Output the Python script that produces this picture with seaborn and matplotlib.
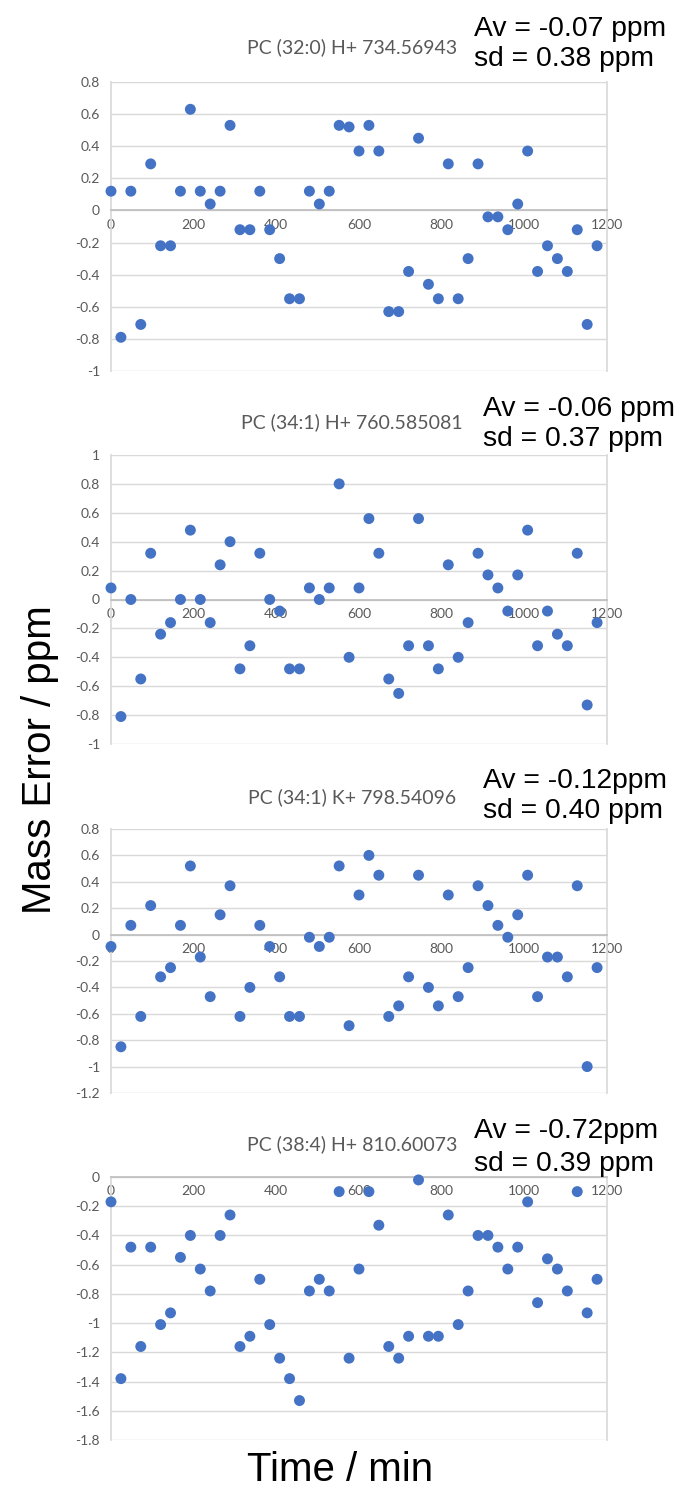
import matplotlib
matplotlib.use("Agg")
import matplotlib.pyplot as plt
import seaborn as sns

# sampling times (min), same for all four lipids
time_min = [0, 24, 48, 72, 96, 120, 144, 168, 192, 216,
            240, 264, 288, 312, 336, 360, 384, 408, 432, 456,
            480, 504, 528, 552, 576, 600, 624, 648, 672, 696,
            720, 744, 768, 792, 816, 840, 864, 888, 912, 936,
            960, 984, 1008, 1032, 1056, 1080, 1104, 1128, 1152, 1176]

# mass error (ppm) per lipid
pc_32_0_h = [0.12, -0.79, 0.12, -0.71, 0.29, -0.22, -0.22, 0.12, 0.63, 0.12,
             0.04, 0.12, 0.53, -0.12, -0.12, 0.12, -0.12, -0.30, -0.55, -0.55,
             0.12, 0.04, 0.12, 0.53, 0.52, 0.37, 0.53, 0.37, -0.63, -0.63,
             -0.38, 0.45, -0.46, -0.55, 0.29, -0.55, -0.30, 0.29, -0.04, -0.04,
             -0.12, 0.04, 0.37, -0.38, -0.22, -0.30, -0.38, -0.12, -0.71, -0.22]

pc_34_1_h = [0.08, -0.81, 0.00, -0.55, 0.32, -0.24, -0.16, 0.00, 0.48, 0.00,
             -0.16, 0.24, 0.40, -0.48, -0.32, 0.32, 0.00, -0.08, -0.48, -0.48,
             0.08, 0.00, 0.08, 0.80, -0.40, 0.08, 0.56, 0.32, -0.55, -0.65,
             -0.32, 0.56, -0.32, -0.48, 0.24, -0.40, -0.16, 0.32, 0.17, 0.08,
             -0.08, 0.17, 0.48, -0.32, -0.08, -0.24, -0.32, 0.32, -0.73, -0.16]

pc_34_1_k = [-0.09, -0.85, 0.07, -0.62, 0.22, -0.32, -0.25, 0.07, 0.52, -0.17,
             -0.47, 0.15, 0.37, -0.62, -0.40, 0.07, -0.09, -0.32, -0.62, -0.62,
             -0.02, -0.09, -0.02, 0.52, -0.69, 0.30, 0.60, 0.45, -0.62, -0.54,
             -0.32, 0.45, -0.40, -0.54, 0.30, -0.47, -0.25, 0.37, 0.22, 0.07,
             -0.02, 0.15, 0.45, -0.47, -0.17, -0.17, -0.32, 0.37, -1.00, -0.25]

pc_38_4_h = [-0.17, -1.38, -0.48, -1.16, -0.48, -1.01, -0.93, -0.55, -0.40, -0.63,
             -0.78, -0.40, -0.26, -1.16, -1.09, -0.70, -1.01, -1.24, -1.38, -1.53,
             -0.78, -0.70, -0.78, -0.10, -1.24, -0.63, -0.10, -0.33, -1.16, -1.24,
             -1.09, -0.02, -1.09, -1.09, -0.26, -1.01, -0.78, -0.40, -0.40, -0.48,
             -0.63, -0.48, -0.17, -0.86, -0.56, -0.63, -0.78, -0.10, -0.93, -0.70]

titles = ["PC (32:0) H+ 734.56943", "PC (34:1) H+ 760.585081",
          "PC (34:1) K+ 798.54096", "PC (38:4) H+ 810.60073"]
av_text = ["Av = -0.07 ppm", "Av = -0.06 ppm", "Av = -0.12ppm", "Av = -0.72ppm"]
sd_text = ["sd = 0.38 ppm", "sd = 0.37 ppm", "sd = 0.40 ppm", "sd = 0.39 ppm"]
y_limits = [(-1, 0.8), (-1, 1), (-1.2, 0.8), (-1.8, 0)]
series = [pc_32_0_h, pc_34_1_h, pc_34_1_k, pc_38_4_h]

sns.set_theme(style="white")
plt.rcParams["font.family"] = ["Lato", "DejaVu Sans"]

W, H = 682, 1498
fig = plt.figure(figsize=(W / 100, H / 100), dpi=100)

# plot-area boxes in pixels: (top, bottom)
boxes = [(82, 371), (455, 744), (829, 1093), (1177, 1440)]
title_y = [47, 422, 797, 1144]
av_pos = [(474, 29), (483, 409), (483, 781), (474, 1131)]
sd_pos = [(474, 59), (483, 439), (483, 811), (474, 1164)]
left_px, right_px = 111, 607

grey = "#595959"
for i, ys in enumerate(series):
    top, bot = boxes[i]
    ax = fig.add_axes([left_px / W, 1 - bot / H, (right_px - left_px) / W, (bot - top) / H])
    sns.scatterplot(x=time_min, y=ys, ax=ax, color="#4472C4", s=62,
                    edgecolor="none", clip_on=False, zorder=3)
    ax.set_xlim(0, 1200)
    lo, hi = y_limits[i]
    ax.set_ylim(lo, hi)
    ax.set_xticks(range(0, 1201, 200))
    n = int(round((hi - lo) / 0.2))
    yt = [round(lo + k * 0.2, 1) for k in range(n + 1)]
    ax.set_yticks(yt)
    ax.set_yticklabels([f"{v:g}" for v in yt])
    ax.yaxis.grid(True, color="#d9d9d9", lw=1)
    ax.set_axisbelow(True)
    for s in ["left", "right"]:
        ax.spines[s].set_visible(True)
        ax.spines[s].set_color("#d9d9d9")
    ax.spines["top"].set_visible(False)
    ax.spines["bottom"].set_position(("data", 0))
    ax.spines["bottom"].set_color("#bfbfbf")
    ax.tick_params(axis="both", length=0, labelsize=10, labelcolor=grey)
    ax.tick_params(axis="x", pad=6)
    ax.tick_params(axis="y", pad=8)
    ax.set_xlabel("")
    ax.set_ylabel("")

    fig.text(352 / W, 1 - title_y[i] / H, titles[i], ha="center", va="center",
             fontsize=14, color=grey)
    fig.text(av_pos[i][0] / W, 1 - av_pos[i][1] / H, av_text[i], ha="left", va="center",
             fontsize=20.3, color="black", family="Liberation Sans")
    fig.text(sd_pos[i][0] / W, 1 - sd_pos[i][1] / H, sd_text[i], ha="left", va="center",
             fontsize=20.3, color="black", family="Liberation Sans")

fig.text(40 / W, 1 - 760 / H, "Mass Error / ppm", rotation=90, ha="center", va="center",
         fontsize=29, family="Liberation Sans", color="black")
fig.text(340 / W, 1 - 1470 / H, "Time / min", ha="center", va="center",
         fontsize=29, family="Liberation Sans", color="black")

fig.savefig("out.png", dpi=100, facecolor="white")
